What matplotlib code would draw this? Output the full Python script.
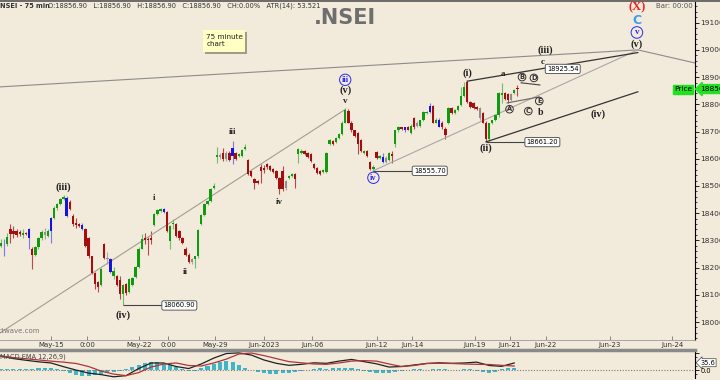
import numpy as np
import matplotlib.pyplot as plt
from matplotlib.lines import Line2D
from matplotlib.patches import Rectangle
from matplotlib.ticker import FormatStrFormatter, MultipleLocator

# ---- NSEI 75 minute bars ----
opens = [18281, 18292, 18285, 18341, 18333, 18333, 18329, 18318, 18326, 18341,
         18270, 18248, 18274, 18307, 18330, 18315, 18333, 18381, 18418, 18433,
         18452, 18455, 18441, 18389, 18363, 18359, 18356, 18341, 18307, 18241,
         18181, 18148, 18137, 18285, 18237, 18233, 18170, 18170, 18155, 18104,
         18141, 18111, 18137, 18167, 18204, 18270, 18307, 18304, 18307, 18356,
         18396, 18407, 18415, 18404, 18296, 18359, 18359, 18333, 18307, 18267,
         18248, 18233, 18230, 18241, 18359, 18392, 18433, 18444, 18492, 18607,
         18615, 18622, 18600, 18622, 18641, 18622, 18611, 18611, 18637, 18596,
         18555, 18526, 18518, 18570, 18567, 18581, 18574, 18563, 18555, 18530,
         18555, 18518, 18530, 18537, 18544, 18618, 18622, 18630, 18622, 18618,
         18581, 18567, 18555, 18552, 18552, 18655, 18667, 18663, 18678, 18692,
         18733, 18774, 18733, 18704, 18696, 18670, 18622, 18630, 18589, 18563,
         18626, 18604, 18607, 18589, 18596, 18618, 18655, 18704, 18715, 18715,
         18718, 18696, 18748, 18733, 18722, 18741, 18767, 18770, 18793, 18733,
         18744, 18733, 18711, 18730, 18785, 18767, 18778, 18796, 18830, 18881,
         18807, 18804, 18789, 18785, 18767, 18733, 18674, 18730, 18741, 18759,
         18833, 18841, 18837, 18815, 18841, 18859]
highs = [18304, 18304, 18326, 18359, 18352, 18341, 18337, 18341, 18330, 18344,
         18274, 18278, 18311, 18337, 18344, 18341, 18385, 18426, 18437, 18456,
         18467, 18463, 18448, 18396, 18381, 18365, 18363, 18344, 18311, 18244,
         18185, 18152, 18200, 18289, 18259, 18237, 18204, 18174, 18170, 18141,
         18144, 18163, 18167, 18207, 18274, 18322, 18326, 18311, 18333, 18400,
         18415, 18418, 18418, 18407, 18356, 18378, 18363, 18337, 18311, 18274,
         18252, 18237, 18244, 18341, 18396, 18437, 18448, 18492, 18511, 18644,
         18622, 18641, 18630, 18630, 18667, 18626, 18622, 18637, 18655, 18600,
         18559, 18530, 18522, 18581, 18578, 18585, 18578, 18567, 18559, 18533,
         18574, 18522, 18541, 18548, 18548, 18641, 18637, 18633, 18626, 18622,
         18585, 18570, 18559, 18563, 18626, 18674, 18670, 18681, 18696, 18737,
         18785, 18781, 18737, 18707, 18700, 18674, 18633, 18633, 18593, 18578,
         18630, 18615, 18622, 18611, 18626, 18630, 18707, 18722, 18718, 18718,
         18722, 18726, 18752, 18737, 18744, 18774, 18774, 18804, 18796, 18748,
         18748, 18737, 18715, 18789, 18789, 18781, 18796, 18863, 18881, 18885,
         18811, 18807, 18793, 18789, 18770, 18737, 18733, 18744, 18763, 18844,
         18878, 18844, 18841, 18841, 18856, 18870]
lows = [18274, 18241, 18278, 18289, 18307, 18311, 18315, 18307, 18318, 18270,
        18193, 18244, 18270, 18300, 18304, 18311, 18289, 18378, 18411, 18429,
        18448, 18385, 18411, 18352, 18344, 18348, 18337, 18274, 18237, 18178,
        18122, 18111, 18133, 18233, 18215, 18181, 18159, 18133, 18085, 18061,
        18100, 18107, 18133, 18163, 18200, 18267, 18285, 18248, 18285, 18352,
        18392, 18404, 18400, 18329, 18270, 18341, 18311, 18300, 18285, 18241,
        18218, 18215, 18200, 18237, 18355, 18389, 18430, 18441, 18489, 18585,
        18600, 18593, 18593, 18590, 18581, 18596, 18607, 18607, 18633, 18540,
        18533, 18489, 18507, 18511, 18548, 18563, 18555, 18548, 18526, 18470,
        18481, 18485, 18526, 18533, 18492, 18585, 18618, 18615, 18604, 18589,
        18563, 18544, 18540, 18548, 18548, 18652, 18652, 18659, 18674, 18689,
        18730, 18730, 18700, 18681, 18619, 18626, 18618, 18607, 18559, 18556,
        18600, 18600, 18585, 18585, 18593, 18585, 18644, 18700, 18707, 18700,
        18704, 18692, 18711, 18718, 18718, 18737, 18763, 18767, 18730, 18730,
        18715, 18711, 18674, 18726, 18763, 18763, 18774, 18793, 18826, 18804,
        18785, 18781, 18778, 18744, 18730, 18662, 18667, 18726, 18737, 18755,
        18804, 18815, 18804, 18811, 18837, 18830]
closes = [18292, 18289, 18311, 18322, 18322, 18318, 18322, 18326, 18322, 18307,
          18248, 18274, 18307, 18330, 18320, 18333, 18381, 18418, 18433, 18452,
          18459, 18389, 18415, 18359, 18356, 18352, 18341, 18278, 18241, 18181,
          18141, 18130, 18196, 18237, 18233, 18185, 18189, 18137, 18104, 18137,
          18107, 18159, 18163, 18204, 18270, 18304, 18300, 18300, 18300, 18396,
          18411, 18415, 18404, 18333, 18352, 18363, 18315, 18307, 18289, 18248,
          18222, 18222, 18241, 18337, 18392, 18433, 18444, 18489, 18500, 18615,
          18607, 18600, 18622, 18596, 18611, 18600, 18618, 18633, 18644, 18544,
          18537, 18511, 18511, 18555, 18559, 18570, 18559, 18552, 18530, 18489,
          18489, 18492, 18537, 18544, 18526, 18637, 18630, 18618, 18607, 18593,
          18567, 18548, 18544, 18559, 18622, 18670, 18655, 18678, 18692, 18733,
          18778, 18733, 18704, 18685, 18655, 18630, 18630, 18611, 18563, 18570,
          18604, 18611, 18589, 18604, 18622, 18611, 18704, 18715, 18711, 18704,
          18707, 18722, 18715, 18722, 18741, 18770, 18770, 18793, 18733, 18744,
          18718, 18715, 18689, 18785, 18767, 18778, 18793, 18830, 18863, 18807,
          18789, 18785, 18781, 18748, 18733, 18674, 18730, 18741, 18759, 18841,
          18841, 18818, 18815, 18837, 18852, 18857]
blue_bars = [1, 9, 16, 21, 26, 35, 52, 74, 122, 129, 137, 140]
gray_bars = [14, 34, 61, 70, 72, 91, 123, 133, 153, 163]

# date axis (bar positions of the labels)
date_ticks = [16, 27.5, 44, 53.5, 68.5, 84, 99.5, 120, 131.5, 151.5, 162.5, 174, 194.5, 214.5]
date_labels = ["May-15", "0:00", "May-22", "0:00", "May-29", "Jun-2023", "Jun-06",
               "Jun-12", "Jun-14", "Jun-19", "Jun-21", "Jun-22", "Jun-23", "Jun-24"]

# MACD(12,26,9): lines sampled every 4 bars, histogram every 2 bars
macd_line = [83, 68, 58, 49, 42, 20, 0, -18, -27, -40, -33, 9, 42, 42, 21, 9, 36, 71, 98, 102,
             89, 60, 40, 28, 34, 43, 40, 53, 63, 50, 37, 18, 21, 30, 39, 43, 40, 42, 47, 27, 22, 42]
signal_line = [83, 74, 67, 60, 53, 47, 39, 21, -6, -24, -33, -15, 18, 36, 42, 27, 24, 42, 65, 95,
               101, 86, 68, 50, 43, 36, 34, 42, 53, 56, 53, 36, 21, 27, 39, 40, 39, 36, 34, 33, 28, 24]
macd_hist = [5, 5, 8, 6, 4, 8, 12, 15, 12, 6,
             -8, -15, -28, -35, -35, -30, -22, -15, -12, -5,
             5, 18, 30, 42, 50, 48, 40, 28, 18, 5,
             -8, -5, 12, 25, 38, 48, 52, 45, 30, 15,
             0, -12, -20, -22, -22, -18, -15, -10, -6, 2,
             8, 10, 8, 10, 12, 12, 10, 5, -5, -12,
             -18, -20, -18, -12, -5, 2, 6, 5, 3, 5,
             6, 4, 2, 3, 6, 4, -5, -12, -15, -12,
             8, 12, 14]
macd_last = 35.6

# marked levels (bar, price)
levels = [(39, 18060.90), (119, 18555.70), (155, 18661.20)]
target = 18925.54
last_price = 18856.1

BG = "#f2eada"
GREEN, RED, BLUE, GRAY = "#0f9a0f", "#a30f0f", "#1414dd", "#8f8f8f"
WICK = {GREEN: "#6cc06c", RED: "#b54a4a", BLUE: "#7a7aee", GRAY: "#a8a8a8"}

fig = plt.figure(figsize=(7.2, 3.8), dpi=100, facecolor=BG)
ax = fig.add_axes([0, 0.1053, 0.965, 0.8895], facecolor=BG)
axm = fig.add_axes([0, 0.0053, 0.965, 0.071], facecolor=BG)

# -----------------------------
# candles
# -----------------------------
o = np.array(opens, float)
h = np.array(highs, float)
l = np.array(lows, float)
c = np.array(closes, float)
x = np.arange(len(c))
cols = [GREEN if c[i] >= o[i] else RED for i in x]
for i in blue_bars:
    cols[i] = BLUE
for i in gray_bars:
    cols[i] = GRAY
ax.vlines(x, l, h, colors=[WICK[k] for k in cols], lw=0.8, zorder=2)
ax.bar(x, np.maximum(np.abs(c - o), 3), bottom=np.minimum(o, c), width=0.75,
       color=cols, linewidth=0, zorder=3)

# -----------------------------
# trend lines
# -----------------------------
apex = (203.5, 19000)
ax.plot([-0.3, apex[0]], [18864, apex[1]], color="#8c8c8c", lw=0.8)
ax.plot([apex[0], 221.7], [apex[1], 18952], color="#8c8c8c", lw=0.8)
ax.plot([-0.3, 110], [17960, 18781], color="#a39d92", lw=0.8)
ax.plot([119, apex[0]], [18556, apex[1]], color="#a8a8a8", lw=0.8)
ax.plot([149, apex[0]], [18885, 18990], color="#333333", lw=0.9)
ax.plot([155, apex[0]], [18662, 18846], color="#333333", lw=0.9)
ax.plot([166.2, 172.2], [18879, 18871], color="#444444", lw=0.8)
ax.plot([161.7, 171.9], [18805, 18827], color="#666666", lw=0.8)

box = dict(boxstyle="round,pad=0.25", fc="white", ec="#444444", lw=0.6)
for bar_i, lvl in levels:
    end = bar_i + 13
    ax.hlines(lvl, bar_i, end, color="#444444", lw=0.8)
    ax.text(end + 5, lvl, f"{lvl:.2f}", fontsize=4.8, ha="center", va="center", bbox=box, zorder=6)
ax.text(179.5, 18930, f"{target:.2f}", fontsize=4.8, ha="center", va="center", bbox=box, zorder=6)

# -----------------------------
# wave labels
# -----------------------------
SERIF = "Liberation Serif"


def wave(xx, yy, s, size=7.5, color="#222222", ring=None, family=SERIF, pad=0.12):
    kw = {}
    if ring:
        kw["bbox"] = dict(boxstyle=f"circle,pad={pad}", fc="none", ec=ring, lw=0.7)
    ax.text(xx, yy, s, fontsize=size, color=color, ha="center", va="center",
            family=family, fontweight="bold", zorder=7, **kw)


wave(20, 18497, "(iii)")
wave(39, 18026, "(iv)")
wave(49, 18456, "i", 6.5)
wave(59, 18184, "ii", 6.5)
wave(74, 18699, "iii", 6.5)
wave(89, 18441, "iv", 6.5)
wave(110, 18890, "iii", 6, "#2a2aee", ring="#2a2aee", pad=0.2)
wave(110, 18852, "(v)")
wave(110, 18812, "v", 6.5)
wave(119, 18530, "iv", 6, "#2a2aee", ring="#2a2aee", pad=0.2)
wave(149, 18915, "(i)")
wave(155, 18640, "(ii)")
wave(160.5, 18913, "a", 6.5)
wave(173, 18956, "c", 6.5)
wave(173.8, 19000, "(iii)")
wave(172.3, 18770, "b", 7)
wave(190.8, 18765, "(iv)")
for s, xx, yy in [("A", 162.5, 18782), ("B", 166.5, 18900), ("C", 168.5, 18775),
                  ("D", 170.3, 18897), ("E", 172, 18812)]:
    wave(xx, yy, s, 4.8, "#333333", ring="#333333", family="DejaVu Sans")
wave(203.2, 19155, "(X)", 9, "#ee2222")
wave(203.2, 19108, "C", 9, "#3a9ff0", family="DejaVu Sans")
wave(203.2, 19064, "v", 6.5, "#2a2aee", ring="#2a2aee", pad=0.2)
wave(203.2, 19020, "(v)")

# -----------------------------
# axes styling (price panel)
# -----------------------------
ax.set_xlim(-0.3, 221.7)
ax.set_ylim(17934, 19176)
ax.yaxis.tick_right()
ax.set_yticks(np.arange(18000, 19101, 100))
ax.yaxis.set_major_formatter(FormatStrFormatter("%.2f"))
ax.yaxis.set_minor_locator(MultipleLocator(20))
ax.tick_params(axis="y", which="major", length=3, width=0.6, labelsize=5.3, pad=1, labelcolor="#333333")
ax.tick_params(axis="y", which="minor", length=1.5, width=0.5)
ax.set_xticks(date_ticks)
ax.set_xticklabels(date_labels)
ax.tick_params(axis="x", direction="in", length=3, width=0.6, labelsize=5, pad=1.5,
               color="#777777", labelcolor="#333333")
for side in ["left", "top"]:
    ax.spines[side].set_visible(False)
ax.spines["right"].set_linewidth(0.8)
ax.spines["bottom"].set_color("#9a9a9a")
ax.spines["bottom"].set_linewidth(0.6)

# price flag
ax.text(0.996, last_price, "Price", transform=ax.get_yaxis_transform(), ha="right", va="center",
        fontsize=5.3, bbox=dict(boxstyle="square,pad=0.2", fc="#22e022", ec="#22e022"), zorder=8)
ax.text(1.008, last_price, f"{last_price:.1f}", transform=ax.get_yaxis_transform(), ha="left",
        va="center", fontsize=5.3, clip_on=False,
        bbox=dict(boxstyle="larrow,pad=0.2", fc="#22e022", ec="#22e022"), zorder=8)

# note box
ax.add_patch(Rectangle((0.295, 0.846), 0.06, 0.064, transform=ax.transAxes, fc="#a09c8c", ec="none"))
ax.add_patch(Rectangle((0.292, 0.852), 0.06, 0.064, transform=ax.transAxes, fc="#ffffc4", ec="none"))
ax.text(0.297, 0.906, "75 minute\nchart", transform=ax.transAxes, fontsize=5.2, va="top",
        linespacing=1.3, color="#222222")
ax.text(0.058, 0.02, "elliottwave.com", transform=ax.transAxes, ha="right", fontsize=5,
        color="#777777", clip_on=True)

fig.text(0.0, 0.984, "NSEI - 75 min", fontsize=4.8, fontweight="bold", color="#333333", va="center")
fig.text(0.066, 0.984, "O:18856.90   L:18856.90   H:18856.90   C:18856.90   CH:0.00%   ATR(14): 53.521",
         fontsize=4.8, color="#333333", va="center")
fig.text(0.479, 0.953, ".NSEI", fontsize=15, fontweight="bold", color="#6e6e6e", ha="center", va="center")
fig.text(0.9625, 0.984, "Bar: 00:00", fontsize=5, color="#555555", ha="right", va="center")
fig.add_artist(Line2D([0, 1], [0.9985, 0.9985], transform=fig.transFigure, color="#555555", lw=1.2))
fig.add_artist(Line2D([0, 0.965], [1 - 349.5 / 380] * 2, transform=fig.transFigure, color="#8a8a8a", lw=2.5))

# -----------------------------
# MACD panel
# -----------------------------
axm.axhline(0, color="#7a7a7a", lw=0.8, ls=(0, (1, 1.5)))
axm.bar(np.arange(0, 2 * len(macd_hist), 2), macd_hist, width=1.3, color="#3fb6c8", linewidth=0)
axm.plot(np.arange(0, 4 * len(macd_line), 4), macd_line, color="#222222", lw=0.9)
axm.plot(np.arange(0, 4 * len(signal_line), 4), signal_line, color="#b03535", lw=0.9)
axm.set_xlim(-0.3, 221.7)
axm.set_ylim(-47, 113)
axm.set_xticks([])
axm.yaxis.tick_right()
axm.set_yticks([0, 50, 100])
axm.set_yticklabels([])
axm.yaxis.set_minor_locator(MultipleLocator(25))
axm.tick_params(axis="y", which="major", length=3, width=0.6)
axm.tick_params(axis="y", which="minor", length=1.5, width=0.5)
for side in ["left", "top", "bottom"]:
    axm.spines[side].set_visible(False)
axm.spines["right"].set_linewidth(0.8)
axm.text(1.008, macd_last + 8, f"{macd_last:.1f}", transform=axm.get_yaxis_transform(), fontsize=4.8,
         va="center", clip_on=False, bbox=dict(boxstyle="larrow,pad=0.15", fc="white", ec="#444444", lw=0.5))
axm.text(1.008, -6, "0.0", transform=axm.get_yaxis_transform(), fontsize=4.8, va="center", clip_on=False)
axm.text(0.0, 0.8, "MACD EMA 12,26,9)", transform=axm.transAxes, fontsize=4.8, color="#444444", va="center")

fig.savefig("out.png", dpi=100, facecolor=BG)
